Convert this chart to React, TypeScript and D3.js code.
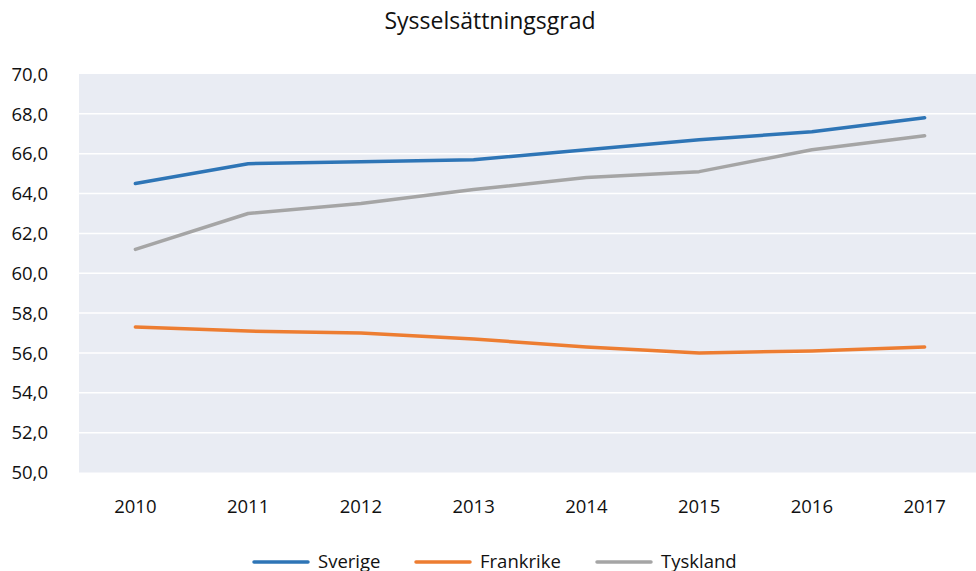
import React from "react";
import * as d3 from "d3";

const years = ["2010", "2011", "2012", "2013", "2014", "2015", "2016", "2017"];
const sverige = [64.5, 65.5, 65.6, 65.7, 66.2, 66.7, 67.1, 67.8];
const frankrike = [57.3, 57.1, 57.0, 56.7, 56.3, 56.0, 56.1, 56.3];
const tyskland = [61.2, 63.0, 63.5, 64.2, 64.8, 65.1, 66.2, 66.9];
const yTicks = [50, 52, 54, 56, 58, 60, 62, 64, 66, 68, 70];
const seriesNames = ["Sverige", "Frankrike", "Tyskland"];
const colors = ["#2e75b6", "#ed7d31", "#a5a5a5"];

const W = 976;
const H = 571;
const left = 79;
const right = 981;
const top = 74;
const bottom = 472.5;
const FONT = "'Open Sans', 'Noto Sans', sans-serif";

export default function App() {
  const x = d3.scaleBand<string>().domain(years).range([left, right]);
  const y = d3.scaleLinear().domain([50, 70]).range([bottom, top]);
  const data = [sverige, frankrike, tyskland];
  const line = d3
    .line<number>()
    .x((_, i) => (x(years[i]) as number) + x.bandwidth() / 2)
    .y((d) => y(d));
  const legendX = [254, 416, 597];
  return (
    <svg
      width={W}
      height={H}
      style={{ position: "absolute", left: 0, top: 0, background: "#fff" }}
      fontFamily={FONT}
    >
      <text x={490} y={29} textAnchor="middle" fontSize={23} fill="#111">
        Sysselsättningsgrad
      </text>
      <rect x={left} y={top} width={W - left} height={bottom - top} fill="#e9ecf3" />
      {yTicks.map((t) => (
        <g key={t}>
          {t !== 50 && t !== 70 && (
            <line x1={left} x2={W} y1={y(t)} y2={y(t)} stroke="#ffffff" strokeWidth={1.5} />
          )}
          <text x={48} y={y(t)} dy="0.36em" textAnchor="end" fontSize={18.5} fill="#111">
            {t.toFixed(1).replace(".", ",")}
          </text>
        </g>
      ))}
      {years.map((yr) => (
        <text
          key={yr}
          x={(x(yr) as number) + x.bandwidth() / 2}
          y={513}
          textAnchor="middle"
          fontSize={18.5}
          fill="#111"
        >
          {yr}
        </text>
      ))}
      {data.map((s, i) => (
        <path
          key={i}
          d={line(s) as string}
          fill="none"
          stroke={colors[i]}
          strokeWidth={3.5}
          strokeLinecap="round"
          strokeLinejoin="round"
        />
      ))}
      {seriesNames.map((n, i) => (
        <g key={n}>
          <line
            x1={legendX[i]}
            x2={legendX[i] + 54}
            y1={562}
            y2={562}
            stroke={colors[i]}
            strokeWidth={3.5}
            strokeLinecap="round"
          />
          <text x={legendX[i] + 64} y={567.5} fontSize={18.5} fill="#111">
            {n}
          </text>
        </g>
      ))}
    </svg>
  );
}
